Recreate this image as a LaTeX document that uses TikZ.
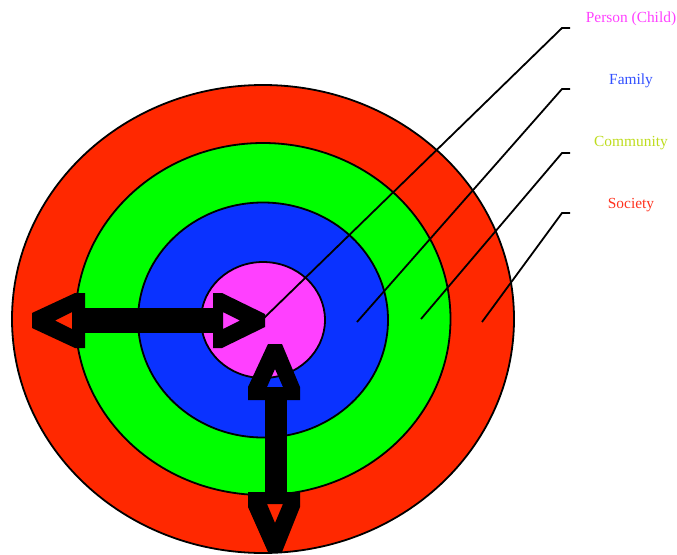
\documentclass[tikz,border=0pt]{standalone}
\usepackage{fontspec}
\setmainfont{Liberation Serif}
\usepackage{xcolor}
\usepackage{tikz}
\usetikzlibrary{shapes.geometric,positioning}
\definecolor{ringred}{RGB}{255, 40, 0}
\definecolor{ringgreen}{RGB}{0, 255, 0}
\definecolor{ringblue}{RGB}{10, 50, 255}
\definecolor{ringpink}{RGB}{255, 64, 255}
\definecolor{txtperson}{RGB}{255, 64, 255}
\definecolor{txtfamily}{RGB}{50, 80, 255}
\definecolor{txtcommunity}{RGB}{190, 220, 30}
\definecolor{txtsociety}{RGB}{255, 50, 30}

\begin{document}
\begin{tikzpicture}[x=1pt, y=-1pt,
    ring/.style={draw=black, line width=1.8pt, ellipse, inner sep=0pt},
    lbl/.style={anchor=base, inner sep=0pt, font=\fontsize{15.4}{18}\selectfont},
    leader/.style={draw=black, line width=1.8pt}]
    \useasboundingbox (0,0) rectangle (677,554);

    % Rings, outermost first
    \node[ring, fill=ringred, minimum width=502pt, minimum height=468pt] (society) at (263,319) {};
    \node[ring, fill=ringgreen, minimum width=375pt, minimum height=352pt] (community) at (263,319) {};
    \node[ring, fill=ringblue, minimum width=250pt, minimum height=235pt] (family) at (263,320) {};
    \node[ring, fill=ringpink, minimum width=124pt, minimum height=116pt] (person) at (263,320) {};

    % Horizontal arrow
    \fill[black] (85,308) rectangle (213,333);
    \fill[black, even odd rule] (85,293) -- (75,293) -- (32,313) -- (32,328) -- (75,348) -- (85,348) -- cycle
        (72,312) -- (55,320.5) -- (72,329) -- cycle;
    \fill[black, even odd rule] (213,293) -- (222,293) -- (265,314) -- (265,327) -- (222,348) -- (213,348) -- cycle
        (223,312) -- (240,320.5) -- (223,329) -- cycle;

    % Vertical arrow
    \fill[black] (265,400) rectangle (287,492);
    \fill[black, even odd rule] (268,344) -- (282,344) -- (300,387) -- (300,400) -- (248,400) -- (248,387) -- cycle
        (267,387) -- (275,369) -- (283,387) -- cycle;
    \fill[black, even odd rule] (248,492) -- (300,492) -- (300,507) -- (282,552) -- (268,552) -- (248,507) -- cycle
        (267,504) -- (283,504) -- (275,523) -- cycle;

    % Labels
    \node[lbl, text=txtperson] (lbl_person) at (631,23) {Person (Child)};
    \node[lbl, text=txtfamily] (lbl_family) at (631,84) {Family};
    \node[lbl, text=txtcommunity] (lbl_community) at (631,146) {Community};
    \node[lbl, text=txtsociety] (lbl_society) at (631,208) {Society};

    % Leader lines
    \coordinate (end_person) at (263,319);
    \coordinate (end_family) at (357,322);
    \coordinate (end_community) at (421,319);
    \coordinate (end_society) at (482,322);
    \draw[leader] (570,28) -- (562,28) -- (end_person);
    \draw[leader] (570,89) -- (562,89) -- (end_family);
    \draw[leader] (570,153) -- (562,153) -- (end_community);
    \draw[leader] (570,213) -- (562,213) -- (end_society);
\end{tikzpicture}
\end{document}
